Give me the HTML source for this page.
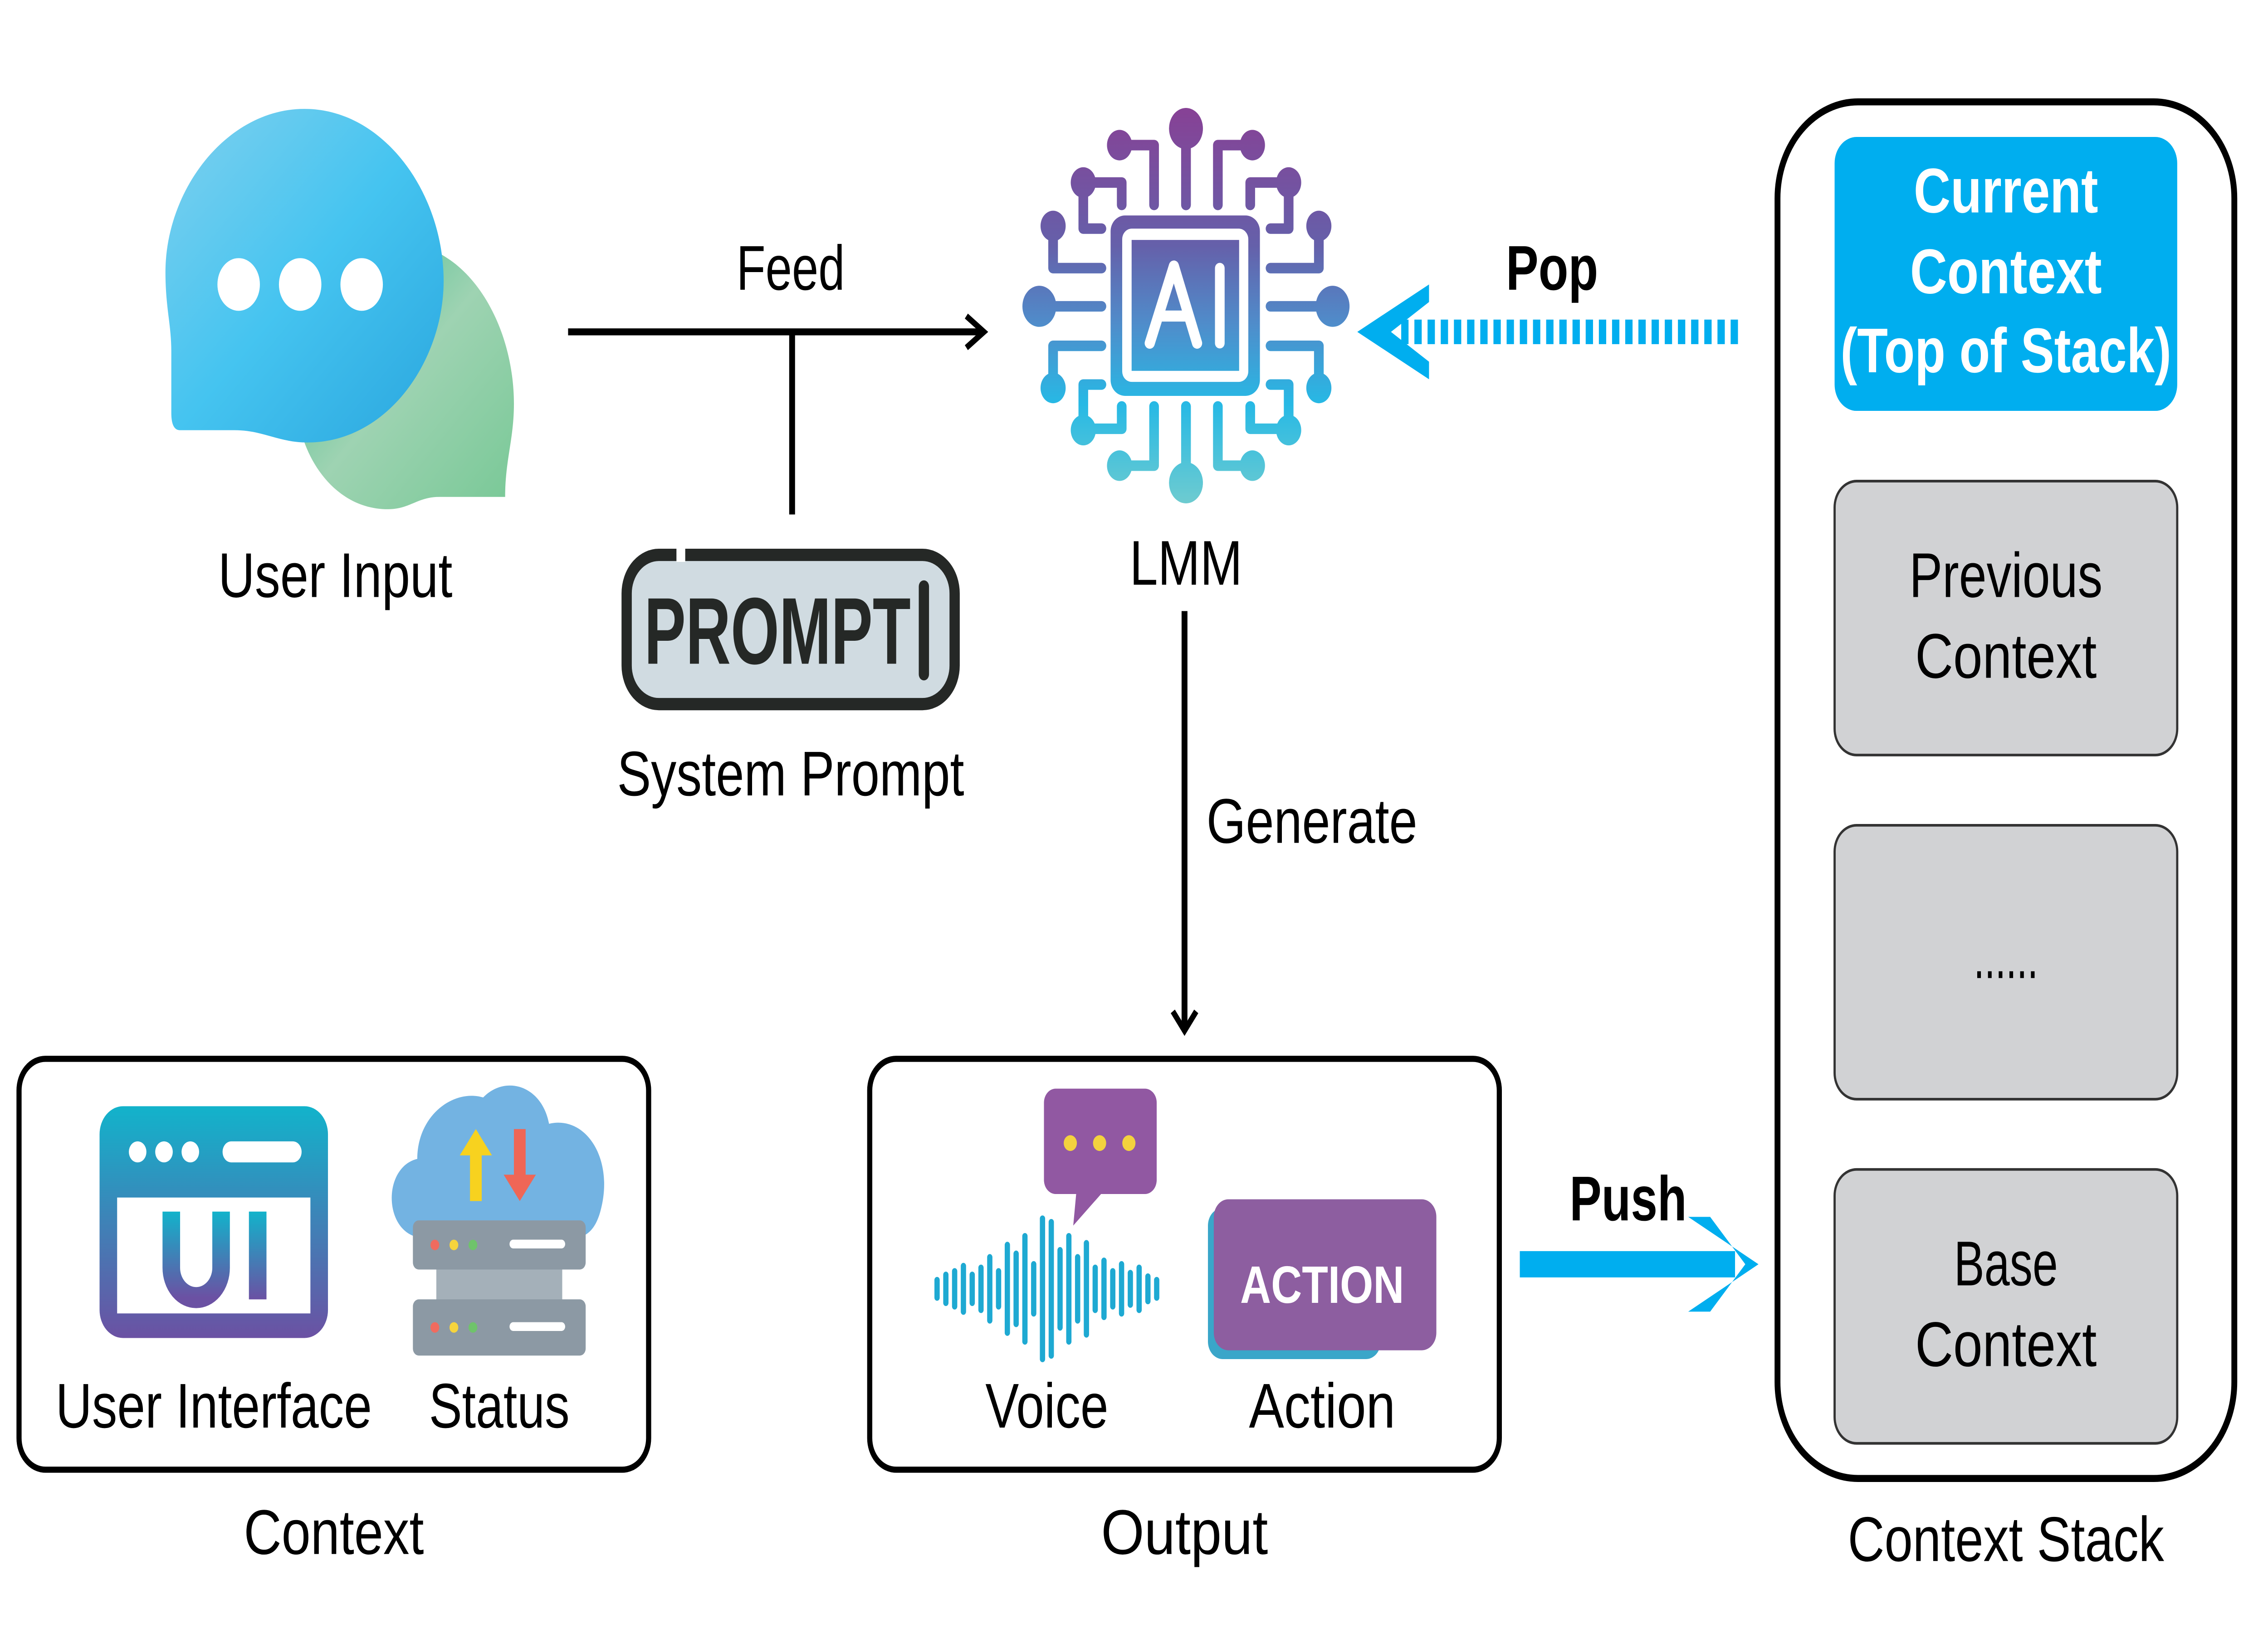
<!DOCTYPE html>
<html><head><meta charset="utf-8"><style>
html,body{margin:0;padding:0;background:#fff;width:100%;height:100%;overflow:hidden;}
svg{display:block;position:fixed;left:0;top:0;width:100vw;height:100vh;}
text{font-family:"Liberation Sans",sans-serif;}
</style></head><body>
<svg viewBox="0 0 1549 930" preserveAspectRatio="none" xmlns="http://www.w3.org/2000/svg">
<defs>
<linearGradient id="gb" x1="0" y1="0" x2="1" y2="1"><stop offset="0" stop-color="#7fd0ee"/><stop offset="0.5" stop-color="#45c4f0"/><stop offset="1" stop-color="#2aa6de"/></linearGradient>
<linearGradient id="gg" x1="0" y1="0" x2="1" y2="1"><stop offset="0" stop-color="#3cb98a"/><stop offset="0.5" stop-color="#9ed3b2"/><stop offset="1" stop-color="#78c896"/></linearGradient>
<linearGradient id="gai" gradientUnits="userSpaceOnUse" x1="0" y1="70" x2="0" y2="1570"><stop offset="0" stop-color="#874195"/><stop offset="0.35" stop-color="#6560aa"/><stop offset="0.55" stop-color="#4f8dcb"/><stop offset="0.75" stop-color="#27b9e5"/><stop offset="1" stop-color="#6dcbd0"/></linearGradient>
<linearGradient id="gui" x1="0" y1="0" x2="0" y2="1"><stop offset="0" stop-color="#12b3cb"/><stop offset="1" stop-color="#6b51a3"/></linearGradient>
<g id="half">
<path d="M782 440 V150 M650 440 V213 H507 M516 440 V355 H357 V530 H432 M432 680 H232 V520 M432 825 H175 M432 975 H232 V1135 M432 1122 H357 V1290 H516 V1205 M650 1205 V1430 H507 M782 1205 V1495" fill="none" stroke="url(#gai)" stroke-width="40" stroke-linecap="round" stroke-linejoin="round"/>
<ellipse cx="782" cy="150" rx="70" ry="78" fill="url(#gai)"/>
<ellipse cx="507" cy="213" rx="52" ry="58" fill="url(#gai)"/>
<ellipse cx="357" cy="355" rx="52" ry="58" fill="url(#gai)"/>
<ellipse cx="232" cy="520" rx="52" ry="58" fill="url(#gai)"/>
<ellipse cx="175" cy="825" rx="70" ry="78" fill="url(#gai)"/>
<ellipse cx="232" cy="1135" rx="52" ry="58" fill="url(#gai)"/>
<ellipse cx="357" cy="1295" rx="52" ry="58" fill="url(#gai)"/>
<ellipse cx="507" cy="1430" rx="52" ry="58" fill="url(#gai)"/>
<ellipse cx="782" cy="1495" rx="70" ry="78" fill="url(#gai)"/>
</g>
</defs>

<path d="M270 138 C320 138 351 185 351 230 C351 250 345 262 345 283 L300 283 C285 283 280 290 265 290 C225 290 203 255 203 230 Z" fill="url(#gg)"/>
<path d="M208 62 C262 62 303 110 303 160 C303 205 265 252 210 252 C190 252 180 245 160 245 L123 245 C118 245 117 240 117 235 L117 200 C117 185 113 175 113 155 C113 108 155 62 208 62 Z" fill="url(#gb)"/>
<ellipse cx="163" cy="162" rx="14.5" ry="15" fill="#fff"/>
<ellipse cx="205" cy="162" rx="14.5" ry="15" fill="#fff"/>
<ellipse cx="247" cy="162" rx="14.5" ry="15" fill="#fff"/>
<text x="229" y="340" font-size="36" text-anchor="middle" textLength="160" lengthAdjust="spacingAndGlyphs">User Input</text>

<line x1="388" y1="189" x2="672" y2="189" stroke="#000" stroke-width="4"/>
<path d="M660 180 L672 189 L660 198" fill="none" stroke="#000" stroke-width="3.5"/>
<line x1="541" y1="189" x2="541" y2="293" stroke="#000" stroke-width="4"/>
<text x="540" y="165" font-size="36" text-anchor="middle" textLength="74" lengthAdjust="spacingAndGlyphs">Feed</text>

<rect x="428" y="316" width="224" height="85" rx="22" fill="#d0dbe1" stroke="#252826" stroke-width="7"/>
<rect x="462" y="310" width="6" height="10" fill="#fff"/>
<text x="531" y="378" font-family="Liberation Mono,monospace" font-weight="bold" font-size="54" text-anchor="middle" fill="#252826" textLength="182" lengthAdjust="spacingAndGlyphs">PROMPT</text>
<line x1="631" y1="334" x2="631" y2="384" stroke="#252826" stroke-width="7" stroke-linecap="round"/>
<text x="540" y="453" font-size="36" text-anchor="middle" textLength="237" lengthAdjust="spacingAndGlyphs">System Prompt</text>

<g transform="translate(810,174) scale(0.165,0.150) translate(-782,-822)">
<use href="#half"/>
<use href="#half" transform="translate(1564,0) scale(-1,1)"/>
<rect x="470" y="480" width="618" height="685" rx="60" fill="url(#gai)"/>
<rect x="518" y="530" width="522" height="582" rx="40" fill="#fff"/>
<rect x="557" y="573" width="445" height="497" fill="url(#gai)"/>
<path d="M632 965 L732 672 L828 965 M670 862 H790" fill="none" stroke="#fff" stroke-width="42" stroke-linecap="round" stroke-linejoin="round"/>
<line x1="922" y1="680" x2="922" y2="965" stroke="#fff" stroke-width="40" stroke-linecap="round"/>
</g>
<text x="810" y="333" font-size="36" text-anchor="middle" textLength="77" lengthAdjust="spacingAndGlyphs">LMM</text>

<line x1="957" y1="189" x2="1190" y2="189" stroke="#00aeef" stroke-width="14" stroke-dasharray="5 4"/>
<polygon points="976,162 927,189 976,216 976,206 950,189 976,172" fill="#00aeef"/>
<text x="1060" y="165" font-size="36" font-weight="bold" text-anchor="middle" textLength="63" lengthAdjust="spacingAndGlyphs">Pop</text>

<line x1="809" y1="348" x2="809" y2="587" stroke="#000" stroke-width="4"/>
<path d="M801 576 L809 587 L817 576" fill="none" stroke="#000" stroke-width="3.5"/>
<text x="824" y="480" font-size="36" textLength="144" lengthAdjust="spacingAndGlyphs">Generate</text>

<rect x="13" y="603" width="430" height="234" rx="18" fill="none" stroke="#000" stroke-width="3.5"/>
<rect x="68" y="630" width="156" height="132" rx="16" fill="url(#gui)"/>
<rect x="80" y="682" width="132" height="66" fill="#fff"/>
<circle cx="94" cy="656" r="6" fill="#fff"/><circle cx="112" cy="656" r="6" fill="#fff"/><circle cx="130" cy="656" r="6" fill="#fff"/>
<rect x="152" y="650" width="54" height="12" rx="6" fill="#fff"/>
<path d="M117 690 V722 A17 17 0 0 0 151 722 V690" fill="none" stroke="url(#gui)" stroke-width="12"/>
<rect x="170" y="690" width="12" height="50" fill="url(#gui)"/>
<text x="146" y="813" font-size="36" text-anchor="middle" textLength="216" lengthAdjust="spacingAndGlyphs">User Interface</text>
<path d="M290 705 C262 705 260 665 285 660 C285 635 310 620 330 625 C345 612 370 618 375 640 C400 635 420 660 410 690 C405 705 395 705 390 705 Z" fill="#73b3e2"/>
<rect x="298" y="720" width="86" height="22" fill="#a4b0b9"/>
<rect x="282" y="695" width="118" height="28" rx="4" fill="#8c99a4"/>
<rect x="282" y="740" width="118" height="32" rx="4" fill="#8c99a4"/>
<circle cx="297" cy="709" r="3" fill="#f06b5f"/><circle cx="310" cy="709" r="3" fill="#f6d43d"/><circle cx="323" cy="709" r="3" fill="#6fc36b"/>
<circle cx="297" cy="756" r="3" fill="#f06b5f"/><circle cx="310" cy="756" r="3" fill="#f6d43d"/><circle cx="323" cy="756" r="3" fill="#6fc36b"/>
<rect x="348" y="706" width="38" height="5" rx="2.5" fill="#fff"/><rect x="348" y="753" width="38" height="5" rx="2.5" fill="#fff"/>
<polygon points="325,643 314,658 321,658 321,684 329,684 329,658 336,658" fill="#f7d21f"/>
<polygon points="355,684 344,669 351,669 351,643 359,643 359,669 366,669" fill="#ef6656"/>
<text x="341" y="813" font-size="36" text-anchor="middle" textLength="96" lengthAdjust="spacingAndGlyphs">Status</text>
<text x="228" y="885" font-size="36" text-anchor="middle" textLength="123" lengthAdjust="spacingAndGlyphs">Context</text>

<rect x="594" y="603" width="430" height="234" rx="18" fill="none" stroke="#000" stroke-width="3.5"/>
<path d="M721 620 H782 A8 8 0 0 1 790 628 V672 A8 8 0 0 1 782 680 H752 L733 698 L735 680 H721 A8 8 0 0 1 713 672 V628 A8 8 0 0 1 721 620 Z" fill="#9158a2"/>
<circle cx="731" cy="651" r="4.5" fill="#f3d23e"/><circle cx="751" cy="651" r="4.5" fill="#f3d23e"/><circle cx="771" cy="651" r="4.5" fill="#f3d23e"/>
<g stroke="#1ea9d2" stroke-width="3.6" stroke-linecap="round">
<line x1="640" y1="729" x2="640" y2="739"/><line x1="646" y1="726" x2="646" y2="742"/><line x1="652" y1="724" x2="652" y2="744"/><line x1="658" y1="721" x2="658" y2="747"/><line x1="664" y1="726" x2="664" y2="742"/><line x1="670" y1="722" x2="670" y2="746"/><line x1="676" y1="716" x2="676" y2="752"/><line x1="682" y1="724" x2="682" y2="744"/><line x1="688" y1="709" x2="688" y2="759"/><line x1="694" y1="714" x2="694" y2="754"/><line x1="700" y1="704" x2="700" y2="764"/><line x1="706" y1="720" x2="706" y2="748"/><line x1="712" y1="694" x2="712" y2="774"/><line x1="718" y1="696" x2="718" y2="772"/><line x1="724" y1="712" x2="724" y2="756"/><line x1="730" y1="704" x2="730" y2="764"/><line x1="736" y1="716" x2="736" y2="752"/><line x1="742" y1="708" x2="742" y2="760"/><line x1="748" y1="722" x2="748" y2="746"/><line x1="754" y1="718" x2="754" y2="750"/><line x1="760" y1="724" x2="760" y2="744"/><line x1="766" y1="720" x2="766" y2="748"/><line x1="772" y1="725" x2="772" y2="743"/><line x1="778" y1="722" x2="778" y2="746"/><line x1="784" y1="727" x2="784" y2="741"/><line x1="790" y1="729" x2="790" y2="739"/>
</g>
<text x="715" y="813" font-size="36" text-anchor="middle" textLength="84" lengthAdjust="spacingAndGlyphs">Voice</text>
<rect x="825" y="688" width="118" height="86" rx="10" fill="#3aa6c9"/>
<rect x="829" y="683" width="152" height="86" rx="10" fill="#8d5ea0"/>
<text x="903" y="742" font-size="30" font-weight="bold" fill="#fff" text-anchor="middle" textLength="112" lengthAdjust="spacingAndGlyphs">ACTION</text>
<text x="903" y="813" font-size="36" text-anchor="middle" textLength="100" lengthAdjust="spacingAndGlyphs">Action</text>
<text x="809" y="885" font-size="36" text-anchor="middle" textLength="114" lengthAdjust="spacingAndGlyphs">Output</text>

<line x1="1038" y1="720" x2="1185" y2="720" stroke="#00aeef" stroke-width="15"/>
<polygon points="1153,693 1201,720 1153,747 1168,747 1192,720 1168,693" fill="#00aeef"/>
<text x="1112" y="695" font-size="36" font-weight="bold" text-anchor="middle" textLength="80" lengthAdjust="spacingAndGlyphs">Push</text>

<rect x="1214" y="58" width="312" height="784" rx="55" fill="none" stroke="#000" stroke-width="4"/>
<rect x="1253" y="78" width="234" height="156" rx="15" fill="#00aeef"/>
<g font-weight="bold" font-size="36" fill="#fff" text-anchor="middle">
<text x="1370" y="121" textLength="126" lengthAdjust="spacingAndGlyphs">Current</text>
<text x="1370" y="167" textLength="131" lengthAdjust="spacingAndGlyphs">Context</text>
<text x="1370" y="212" textLength="226" lengthAdjust="spacingAndGlyphs">(Top of Stack)</text>
</g>
<g fill="#d1d2d4" stroke="#333" stroke-width="1.5">
<rect x="1253" y="274" width="234" height="156" rx="15"/>
<rect x="1253" y="470" width="234" height="156" rx="15"/>
<rect x="1253" y="666" width="234" height="156" rx="15"/>
</g>
<g font-size="36" text-anchor="middle">
<text x="1370" y="340" textLength="132" lengthAdjust="spacingAndGlyphs">Previous</text>
<text x="1370" y="386" textLength="124" lengthAdjust="spacingAndGlyphs">Context</text>
<text x="1370" y="557" textLength="44" lengthAdjust="spacingAndGlyphs">......</text>
<text x="1370" y="732" textLength="71" lengthAdjust="spacingAndGlyphs">Base</text>
<text x="1370" y="778" textLength="124" lengthAdjust="spacingAndGlyphs">Context</text>
<text x="1370" y="889" textLength="216" lengthAdjust="spacingAndGlyphs">Context Stack</text>
</g>
</svg>
</body></html>
